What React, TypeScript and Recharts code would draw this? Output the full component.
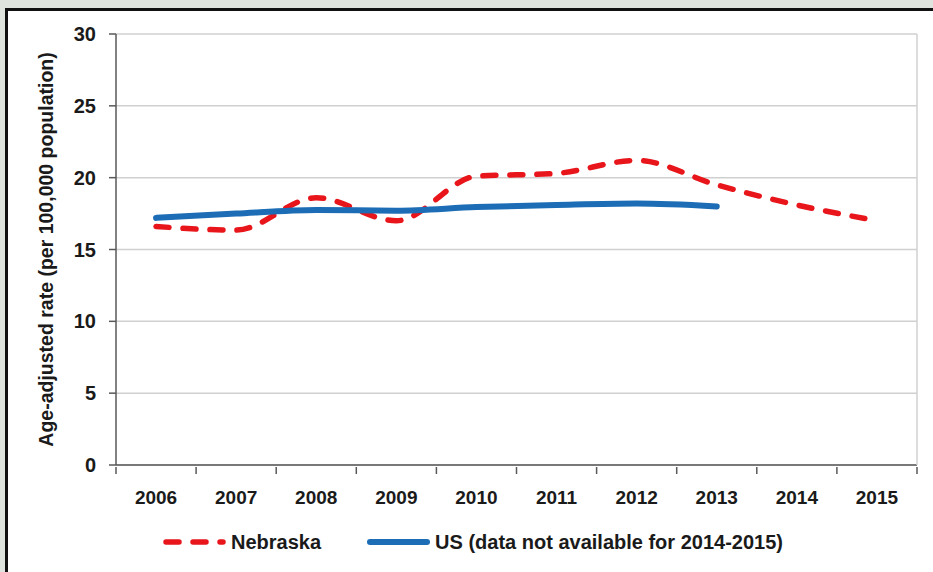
import { LineChart, Line, XAxis, YAxis, CartesianGrid, Legend, Label } from "recharts";

const years = ["2006", "2007", "2008", "2009", "2010", "2011", "2012", "2013", "2014", "2015"];
const nebraskaRates = [16.6, 16.35, 18.6, 17.0, 20.1, 20.3, 21.2, 19.5, 18.1, 17.0];
const usRates = [17.2, 17.5, 17.75, 17.7, 17.95, 18.1, 18.2, 18.0, null, null];
const yTicks = [0, 5, 10, 15, 20, 25, 30];

const seriesNames = {
  nebraska: "Nebraska",
  us: "US (data not available for 2014-2015)",
};

const data = years.map((year, i) => ({ year, nebraska: nebraskaRates[i], us: usRates[i] }));

const FONT = "'Liberation Sans', Arial, sans-serif";
const TEXT = "#1a1a1a";
const AXIS = "#595959";
const RED = "#e8151b";
const BLUE = "#1c6db5";
const W = 933;
const H = 572;
const PLOT_W = 801;
const BAND = PLOT_W / years.length;

const XTick = (props: any) => {
  const { x, y, payload, index } = props;
  return (
    <g>
      <line x1={x - BAND / 2} x2={x - BAND / 2} y1={y} y2={y + 7} stroke={AXIS} strokeWidth={1.5} />
      {index === years.length - 1 && (
        <line x1={x + BAND / 2} x2={x + BAND / 2} y1={y} y2={y + 7} stroke={AXIS} strokeWidth={1.5} />
      )}
      <text x={x} y={y + 37} textAnchor="middle" fontFamily={FONT} fontWeight={700} fontSize={19} fill={TEXT}>
        {payload.value}
      </text>
    </g>
  );
};

const YTitle = (props: any) => {
  const { viewBox } = props;
  const cx = viewBox.x + 46;
  const cy = viewBox.y + viewBox.height / 2;
  return (
    <text
      x={cx}
      y={cy}
      transform={`rotate(-90, ${cx}, ${cy})`}
      textAnchor="middle"
      dominantBaseline="central"
      fontFamily={FONT}
      fontWeight={700}
      fontSize={19.5}
      fill={TEXT}
    >
      Age-adjusted rate (per 100,000 population)
    </text>
  );
};

const LegendContent = (props: any) => {
  const items = props.payload || [];
  return (
    <div
      style={{
        display: "flex",
        alignItems: "center",
        paddingLeft: 163,
        height: 28,
        fontFamily: FONT,
        fontWeight: 700,
        fontSize: 20,
        color: TEXT,
      }}
    >
      {items.map((it: any, i: number) => (
        <div key={i} style={{ display: "flex", alignItems: "center", marginLeft: i === 0 ? 0 : 46 }}>
          <svg width={66} height={12}>
            <line
              x1={3}
              x2={60}
              y1={6}
              y2={6}
              stroke={it.color}
              strokeWidth={it.payload?.strokeDasharray ? 5.5 : 6}
              strokeDasharray={it.payload?.strokeDasharray}
              strokeLinecap="round"
            />
          </svg>
          <span style={{ marginLeft: 2 }}>{it.value}</span>
        </div>
      ))}
    </div>
  );
};

export default function App() {
  return (
    <div style={{ position: "fixed", left: 0, top: 0, width: W, height: H, overflow: "hidden", background: "#dfe5de" }}>
      <div
        style={{
          position: "absolute",
          left: 5,
          top: 8,
          width: 1000,
          height: 1000,
          border: "3px solid #111",
          background: "#fff",
        }}
      />
      <div style={{ position: "absolute", left: 0, top: 0 }}>
        <LineChart width={W} height={H} data={data} margin={{ top: 34, right: 0, left: 0, bottom: 0 }}>
          <CartesianGrid vertical={false} stroke="#d0d0d0" strokeWidth={1.5} />
          <XAxis
            dataKey="year"
            scale="band"
            height={107}
            axisLine={{ stroke: AXIS, strokeWidth: 1.5 }}
            tickLine={false}
            tickSize={0}
            tick={<XTick />}
            interval={0}
          />
          <YAxis
            domain={[0, 30]}
            ticks={yTicks}
            width={116}
            axisLine={{ stroke: AXIS, strokeWidth: 1.5 }}
            tickLine={{ stroke: AXIS, strokeWidth: 1.5 }}
            tickSize={7}
            tickMargin={13}
            tick={{ fontFamily: FONT, fontWeight: 700, fontSize: 20, fill: TEXT }}
          >
            <Label content={<YTitle />} />
          </YAxis>
          <YAxis
            yAxisId="frame"
            orientation="right"
            domain={[0, 30]}
            width={16}
            tick={false}
            tickLine={false}
            axisLine={{ stroke: "#d0d0d0", strokeWidth: 1.5 }}
          />
          <Legend
            content={<LegendContent />}
            layout="horizontal"
            verticalAlign="middle"
            align="center"
            wrapperStyle={{ top: 528, left: 0, width: W, height: 28 }}
          />
          <Line
            dataKey="nebraska"
            name={seriesNames.nebraska}
            type="monotone"
            stroke={RED}
            strokeWidth={5.5}
            strokeDasharray="13 14"
            strokeLinecap="round"
            dot={false}
            activeDot={false}
            isAnimationActive={false}
          />
          <Line
            dataKey="us"
            name={seriesNames.us}
            type="monotone"
            stroke={BLUE}
            strokeWidth={6}
            strokeLinecap="round"
            dot={false}
            activeDot={false}
            isAnimationActive={false}
          />
        </LineChart>
      </div>
    </div>
  );
}
